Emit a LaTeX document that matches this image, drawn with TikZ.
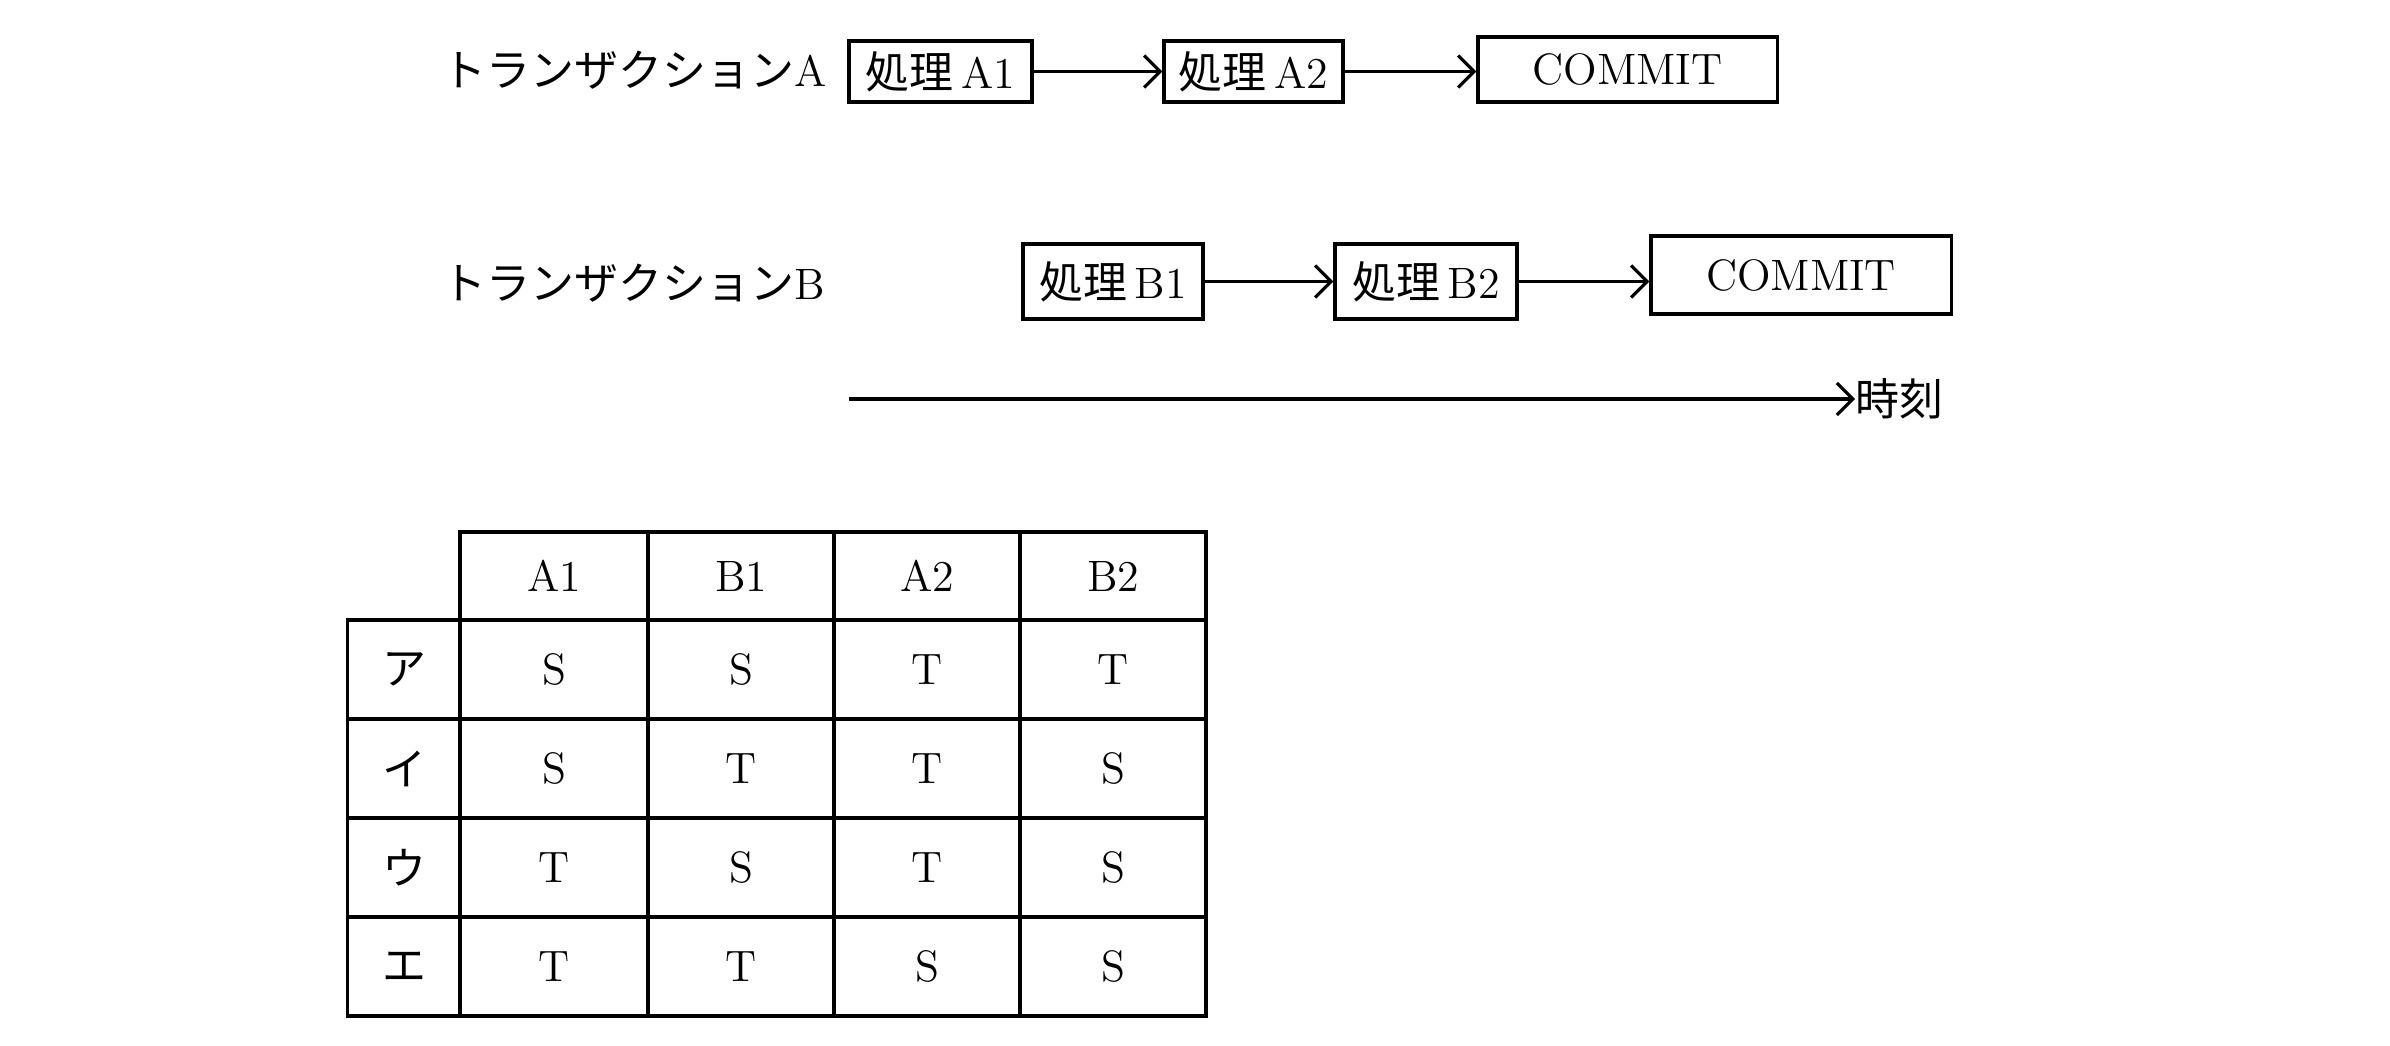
\documentclass[tikz,border=0pt]{standalone}
\usepackage{fontspec}
\newfontfamily\jp{Noto Sans CJK JP}
\usetikzlibrary{arrows.meta}
\begin{document}
\begin{tikzpicture}[x=0.01cm,y=-0.01cm,
  font=\fontsize{12.5}{15}\selectfont,
  box/.style={draw,line width=0.9pt,inner sep=0pt},
  conn/.style={line width=0.9pt,-{Straight Barb[length=1.6mm,width=3.2mm,line width=0.9pt]}},
  grid/.style={line width=0.9pt},
  cell/.style={inner sep=0pt}]
\useasboundingbox (0,0) rectangle (2390,1046);
% transaction A
\node[anchor=west,inner sep=0pt] (ta) at (442,70) {{\jp トランザクション}A};
\node[box,minimum width=1.83cm,minimum height=0.61cm] (a1) at (940.5,71.5) {{\jp 処理}\,A1};
\node[box,minimum width=1.79cm,minimum height=0.61cm] (a2) at (1253.5,71.5) {{\jp 処理}\,A2};
\node[box,minimum width=2.99cm,minimum height=0.65cm] (ca) at (1627.5,69.5) {COMMIT};
\draw[conn] (a1) -- (a2);
\draw[conn] (a2.east) -- (a2.east -| ca.west);
% transaction B
\node[anchor=west,inner sep=0pt] (tb) at (442,283) {{\jp トランザクション}B};
\node[box,minimum width=1.80cm,minimum height=0.75cm] (b1) at (1113,281.5) {{\jp 処理}\,B1};
\node[box,minimum width=1.82cm,minimum height=0.75cm] (b2) at (1426,281.5) {{\jp 処理}\,B2};
\node[box,minimum width=3.00cm,minimum height=0.78cm] (cb) at (1801,275) {COMMIT};
\draw[conn] (b1) -- (b2);
\draw[conn] (b2.east) -- (b2.east -| cb.west);
% time axis
\coordinate (t0) at (849,399);
\node[anchor=west,inner sep=0pt] (time) at (1855,399) {\jp 時刻};
\draw[conn] (t0) -- (time.west);
% table
\draw[grid] (460,532) rectangle (1206,620);
\draw[grid] (347.5,620) rectangle (1206,1016);
\foreach \x in {460,648,834,1020} \draw[grid] (\x,532) -- (\x,1016);
\foreach \y in {719,818,917} \draw[grid] (347.5,\y) -- (1206,\y);
\node[cell] (h1) at (554,576) {A1};
\node[cell] (h2) at (741,576) {B1};
\node[cell] (h3) at (927,576) {A2};
\node[cell] (h4) at (1113,576) {B2};
\node[cell] (r1) at (404,669.5) {\jp ア};
\node[cell] (r2) at (404,768.5) {\jp イ};
\node[cell] (r3) at (404,867.5) {\jp ウ};
\node[cell] (r4) at (404,966.5) {\jp エ};
\foreach \r/\y/\a/\b/\c/\d in {1/669.5/S/S/T/T, 2/768.5/S/T/T/S, 3/867.5/T/S/T/S, 4/966.5/T/T/S/S}{
  \node[cell] (c\r a) at (554,\y) {\a};
  \node[cell] (c\r b) at (741,\y) {\b};
  \node[cell] (c\r c) at (927,\y) {\c};
  \node[cell] (c\r d) at (1113,\y) {\d};
}
\end{tikzpicture}
\end{document}
